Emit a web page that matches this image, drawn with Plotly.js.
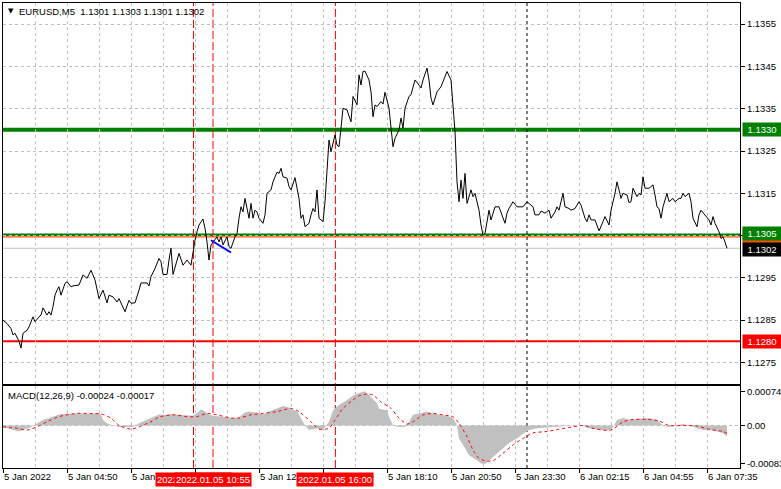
<!DOCTYPE html>
<html><head><meta charset="utf-8">
<script src="https://cdn.plot.ly/plotly-3.0.1.min.js"></script>
<style>html,body{margin:0;padding:0;background:#fff;}#chart{width:781px;height:489px;}</style>
</head><body><div id="chart"></div>
<script>
// ---- price series (bar index, close) ----
const priceIdx = [0,2,4,5,6,7,8,9,10,12,13,15,16,18,19,20,22,23,24,25,26,27,28,29,31,32,34,35,38,39,40,42,44,46,47,48,50,52,53,55,57,58,61,63,64,66,68,69,72,73,74,76,78,79,80,82,83,84,85,87,88,90,92,94,95,96,97,98,100,101,102,103,104,106,107,108,109,110,112,113,114,116,117,118,119,120,121,123,124,125,126,127,128,130,131,132,134,135,137,138,139,140,142,143,144,146,147,148,149,150,151,153,154,155,156,157,158,159,160,161,162,163,164,165,166,167,168,169,170,172,173,174,175,177,178,179,180,181,183,184,185,186,187,189,190,191,193,194,195,196,198,199,200,201,203,204,206,208,209,210,212,213,214,215,217,219,221,222,224,225,226,227,228,229,230,231,232,234,235,236,238,239,240,241,243,244,246,248,249,251,252,253,255,257,260,262,263,265,266,268,269,271,273,274,276,277,278,280,281,283,284,286,288,289,291,292,293,294,296,298,300,301,303,304,306,307,308,309,310,312,313,314,315,317,318,319,320,321,323,325,326,327,328,329,330,332,333,335,336,338,339,340,341,343,344,345,347,348,349,351,353,354,355,356,358,359,360,361,362];
const priceClose = [1.12850,1.12842,1.12830,1.12815,1.12819,1.12811,1.12800,1.12784,1.12819,1.12826,1.12834,1.12858,1.12846,1.12858,1.12862,1.12879,1.12862,1.12870,1.12862,1.12882,1.12909,1.12921,1.12929,1.12909,1.12937,1.12941,1.12929,1.12931,1.12933,1.12945,1.12957,1.12949,1.12968,1.12945,1.12921,1.12901,1.12921,1.12891,1.12909,1.12905,1.12893,1.12901,1.12870,1.12897,1.12890,1.12891,1.12921,1.12938,1.12938,1.12931,1.12953,1.12972,1.12996,1.12988,1.12958,1.12958,1.12992,1.13020,1.12958,1.12988,1.13008,1.12980,1.12992,1.12980,1.13011,1.13039,1.13059,1.13075,1.13089,1.13067,1.13035,1.12992,1.13028,1.13039,1.13047,1.13035,1.13047,1.13028,1.13047,1.13024,1.13020,1.13047,1.13055,1.13091,1.13118,1.13106,1.13138,1.13091,1.13126,1.13091,1.13110,1.13106,1.13091,1.13079,1.13099,1.13150,1.13158,1.13177,1.13200,1.13197,1.13209,1.13189,1.13186,1.13166,1.13158,1.13187,1.13162,1.13138,1.13091,1.13099,1.13071,1.13079,1.13099,1.13114,1.13106,1.13158,1.13091,1.13087,1.13083,1.13130,1.13209,1.13276,1.13248,1.13272,1.13288,1.13264,1.13260,1.13304,1.13351,1.13347,1.13331,1.13319,1.13379,1.13359,1.13430,1.13406,1.13438,1.13439,1.13418,1.13390,1.13331,1.13359,1.13355,1.13367,1.13361,1.13389,1.13351,1.13312,1.13260,1.13280,1.13300,1.13328,1.13304,1.13351,1.13379,1.13383,1.13418,1.13406,1.13399,1.13418,1.13446,1.13418,1.13375,1.13359,1.13390,1.13402,1.13426,1.13438,1.13418,1.13363,1.13296,1.13177,1.13130,1.13181,1.13138,1.13197,1.13126,1.13158,1.13142,1.13150,1.13110,1.13075,1.13051,1.13055,1.13110,1.13087,1.13118,1.13118,1.13106,1.13079,1.13103,1.13114,1.13130,1.13118,1.13118,1.13130,1.13126,1.13118,1.13099,1.13099,1.13108,1.13103,1.13110,1.13091,1.13106,1.13118,1.13110,1.13150,1.13118,1.13114,1.13110,1.13114,1.13130,1.13122,1.13091,1.13083,1.13099,1.13087,1.13087,1.13061,1.13083,1.13095,1.13075,1.13110,1.13150,1.13177,1.13158,1.13138,1.13150,1.13146,1.13128,1.13130,1.13162,1.13142,1.13150,1.13146,1.13189,1.13162,1.13162,1.13170,1.13146,1.13118,1.13114,1.13091,1.13118,1.13150,1.13130,1.13138,1.13130,1.13138,1.13138,1.13150,1.13142,1.13150,1.13130,1.13091,1.13071,1.13099,1.13110,1.13099,1.13087,1.13075,1.13095,1.13079,1.13059,1.13043,1.13047,1.13035,1.13020];

// blue trend segment
const trendIdx = [104, 114];
const trendPrice = [1.13039, 1.13010];

// ---- MACD ----
const histIdx = [0,8,14,17,20,25,28,32,37,42,47,49,50,52,55,58,62,65,68,72,75,78,82,84,88,92,95,98,99,101,103,105,108,112,115,118,121,123,127,130,133,137,140,143,147,149,151,153,157,160,163,165,168,172,175,178,181,183,187,188,192,193,195,198,201,203,205,208,212,215,218,222,225,227,228,231,233,237,239,241,243,247,250,253,257,260,263,267,272,277,282,287,290,293,298,303,305,307,310,313,318,323,327,330,333,337,340,343,347,350,353,357,360,362];
const histValue = [-0.00003,-0.00013,-0.00003,0.00005,0.00012,0.00019,0.00024,0.00026,0.00026,0.00026,0.00026,0.00023,0.00012,0.00005,0.0,-0.00003,-0.00003,-0.00003,0.00005,0.00012,0.00019,0.00024,0.00023,0.00025,0.00023,0.00021,0.00021,0.0003,0.00035,0.0003,0.00023,0.00021,0.0002,0.00018,0.00016,0.00018,0.00028,0.0003,0.00028,0.00024,0.0003,0.00037,0.00042,0.00039,0.0003,0.00016,0.0,-0.0001,-0.00006,-0.0001,0.00008,0.00033,0.00044,0.00055,0.00064,0.0007,0.00074,0.00066,0.00048,0.00036,0.00033,0.00019,0.0,-0.00003,-0.00003,0.00008,0.00023,0.00026,0.0003,0.00026,0.00023,0.00021,0.00016,0.0,-0.00028,-0.00049,-0.00064,-0.00075,-0.00082,-0.00083,-0.00075,-0.0006,-0.00049,-0.00038,-0.00028,-0.00018,-0.0001,-0.00006,-0.00004,-0.00003,-0.00001,0.0,0.0,-0.00006,-0.0001,-0.0001,-0.00003,0.00012,0.00016,0.00013,0.00014,0.00016,0.00012,0.0,-0.00003,0.0,0.00003,0.0,-0.00006,-0.0001,-0.0001,-0.00013,-0.00017,-0.00024];
const signalIdx = [0,7,12,17,22,27,32,37,44,49,54,58,64,68,74,78,85,92,97,102,107,114,118,124,130,137,144,148,154,158,163,166,170,175,178,182,185,189,194,198,202,205,210,215,220,225,228,232,235,238,242,245,250,255,260,265,272,278,285,290,295,302,305,310,315,322,328,333,340,347,353,360,362];
const signalValue = [-0.00003,-0.00006,-0.0001,-0.00003,0.00008,0.00018,0.00023,0.00026,0.00026,0.00025,0.00016,0.0,-0.00008,-0.00003,0.00008,0.00018,0.00023,0.00019,0.00019,0.00026,0.00023,0.00016,0.00016,0.00023,0.00026,0.0003,0.00037,0.0003,0.00008,-0.00008,-0.00006,0.00012,0.00037,0.00055,0.00064,0.00068,0.00066,0.00051,0.00037,0.00016,0.00003,0.00008,0.00023,0.00026,0.00023,0.00019,0.00005,-0.00024,-0.00053,-0.00071,-0.00077,-0.00076,-0.0006,-0.00042,-0.00028,-0.00016,-0.00013,-0.00008,-0.00003,0.0,-0.00006,-0.00011,-0.00008,0.00008,0.00013,0.00013,0.0001,0.0,0.0,-0.00001,-0.00008,-0.00013,-0.00017];

// ---- levels / ticks / labels ----
const resistanceLevel = 1.1330;
const entryLevel = 1.13052;
const entryLevel2 = 1.13047;
const supportLevel = 1.1280;
const bidLevel = 1.1302;
const priceTicks = [1.1275,1.1285,1.1295,1.1305,1.1315,1.1325,1.1335,1.1345,1.1355];
const macdTicks = [0.00074, 0, -0.00083];
const macdTickText = ['0.00074','0.00','-0.00083'];
const timeTickIdx = [0,32,64,96,128,160,192,224,256,288,320,352];
const timeTickText = ['5 Jan 2022','5 Jan 04:50','5 Jan 07:30','5 Jan 10:10','5 Jan 12:50','5 Jan 15:30','5 Jan 18:10','5 Jan 20:50','5 Jan 23:30','6 Jan 02:15','6 Jan 04:55','6 Jan 07:35'];
const eventIdx = [95.25, 105, 166.2];
const eventText = ['2022.01.05 10:10','2022.01.05 10:55','2022.01.05 16:00'];
const daySepIdx = 262;
const titleText = 'EURUSD,M5\u00a0\u00a01.1301 1.1303 1.1301 1.1302';
const macdText = 'MACD(12,26,9) -0.00024 -0.00017';

const FONT = 'Liberation Sans, Arial, sans-serif';
const GRID = '#c0c0c0';
const XMAX = 368.5;

const traces = [
  {x: histIdx, y: histValue, xaxis:'x2', yaxis:'y2', type:'scatter', mode:'lines',
   fill:'tozeroy', fillcolor:'#c0c0c0', line:{width:0, color:'#c0c0c0'}, hoverinfo:'skip'},
  {x: signalIdx, y: signalValue, xaxis:'x2', yaxis:'y2', type:'scatter', mode:'lines',
   line:{width:1, color:'#ff0000', dash:'3px,3px', shape:'spline', smoothing:0.6}, hoverinfo:'skip'},
  {x: priceIdx, y: priceClose, xaxis:'x', yaxis:'y', type:'scatter', mode:'lines',
   line:{width:1, color:'#000000'}, hoverinfo:'skip'},
  {x: trendIdx, y: trendPrice, xaxis:'x', yaxis:'y', type:'scatter', mode:'lines',
   line:{width:2, color:'#0000ff'}, hoverinfo:'skip'}
];

const shapes = [];
function hline(y, color, width, yref, dash, layer){
  shapes.push({type:'line', xref:'paper', x0:0, x1:1, yref:yref||'y', y0:y, y1:y,
    line:{color:color, width:width, dash:dash||'solid'}, layer:layer||'below'});
}
hline(bidLevel, '#c0c0c0', 1);
hline(resistanceLevel, '#008000', 4);
hline(entryLevel, '#008000', 2.5);
hline(entryLevel2, '#ff5000', 1.2);
hline(supportLevel, '#ff0000', 2);
hline(0, GRID, 1, 'y2', '3px,3px');
eventIdx.forEach(function(v){
  shapes.push({type:'line', xref:'x', x0:v, x1:v, yref:'paper', y0:0, y1:1,
    line:{color:'#ff0000', width:1, dash:'8px,3px'}, layer:'below'});
});
shapes.push({type:'line', xref:'x', x0:daySepIdx, x1:daySepIdx, yref:'paper', y0:0, y1:1,
  line:{color:'#000000', width:1, dash:'3px,3px'}, layer:'below'});

const annotations = [
  {xref:'paper', yref:'paper', x:0, y:1, xanchor:'left', yanchor:'middle', xshift:3, yshift:-8,
   text:'\u25BC', showarrow:false, font:{family:'DejaVu Sans', size:7, color:'#000'}},
  {xref:'paper', yref:'paper', x:0, y:1, xanchor:'left', yanchor:'middle', xshift:14, yshift:-8,
   text:titleText, showarrow:false, font:{family:FONT, size:9.5, color:'#000'}},
  {xref:'paper', yref:'paper', x:0, y:0.17527, xanchor:'left', yanchor:'middle', xshift:3, yshift:-9,
   text:macdText, showarrow:false, font:{family:FONT, size:9.5, color:'#000'}}
];
function priceBox(y, txt, bg, fg){
  annotations.push({xref:'paper', yref:'y', x:1, y:y, xanchor:'left', yanchor:'middle', xshift:2,
    text:txt, showarrow:false, bgcolor:bg, borderpad:1, width:36, align:'center',
    font:{family:FONT, size:9.5, color:fg}});
}
priceBox(entryLevel2, '1.1305', '#ff5000', '#ff5000');
priceBox(resistanceLevel, resistanceLevel.toFixed(4), '#008000', '#ffffff');
priceBox(entryLevel + 0.00002, '1.1305', '#008000', '#ffffff');
priceBox(supportLevel, supportLevel.toFixed(4), '#ff0000', '#ffffff');
priceBox(bidLevel - 0.00004, bidLevel.toFixed(4), '#000000', '#ffffff');
eventIdx.forEach(function(v, i){
  annotations.push({xref:'x', yref:'paper', x:v, y:0, xanchor:'center', yanchor:'top', yshift:-4,
    text:eventText[i], showarrow:false, bgcolor:'#ff0000', borderpad:1,
    font:{family:FONT, size:9.5, color:'#ffffff'}});
});

const layout = {
  width:781, height:489, margin:{l:3, r:41, t:3, b:21},
  paper_bgcolor:'#ffffff', plot_bgcolor:'#ffffff', showlegend:false,
  xaxis:{domain:[0,1], anchor:'y', range:[0,XMAX], tickmode:'array', tickvals:timeTickIdx,
    showticklabels:false, ticks:'', showgrid:true, gridcolor:GRID, griddash:'3px,3px', gridwidth:1,
    minor:{tickmode:'linear', tick0:16, dtick:32, showgrid:true, gridcolor:GRID, griddash:'3px,3px', ticks:''},
    showline:true, mirror:true, linecolor:'#000', linewidth:1, zeroline:false, fixedrange:true},
  xaxis2:{domain:[0,1], anchor:'y2', matches:'x', range:[0,XMAX], tickmode:'array', tickvals:timeTickIdx, ticktext:timeTickText,
    ticks:'outside', ticklen:4, tickcolor:'#000', ticklabelposition:'outside right',
    tickfont:{family:FONT, size:9.5, color:'#000'},
    showgrid:true, gridcolor:GRID, griddash:'3px,3px',
    minor:{tickmode:'linear', tick0:16, dtick:32, showgrid:true, gridcolor:GRID, griddash:'3px,3px', ticks:''},
    showline:true, mirror:true, linecolor:'#000', linewidth:1, zeroline:false},
  yaxis:{domain:[0.18065,1], anchor:'x', side:'right', range:[1.12699,1.13600], tickmode:'array',
    tickvals:priceTicks, ticktext:priceTicks.map(function(v){return v.toFixed(4);}),
    ticks:'outside', ticklen:4, tickcolor:'#000', tickfont:{family:FONT, size:9.5, color:'#000'},
    showgrid:true, gridcolor:GRID, griddash:'3px,3px', showline:true, mirror:true, linecolor:'#000', linewidth:1, zeroline:false},
  yaxis2:{domain:[0,0.17527], anchor:'x2', side:'right', range:[-0.000918,0.000842], tickmode:'array',
    tickvals:macdTicks, ticktext:macdTickText, ticks:'outside', ticklen:4, tickcolor:'#000',
    tickfont:{family:FONT, size:9.5, color:'#000'}, showgrid:false,
    showline:true, mirror:true, linecolor:'#000', linewidth:1, zeroline:false},
  shapes:shapes, annotations:annotations
};
Plotly.newPlot('chart', traces, layout, {staticPlot:true, displayModeBar:false});
</script></body></html>
